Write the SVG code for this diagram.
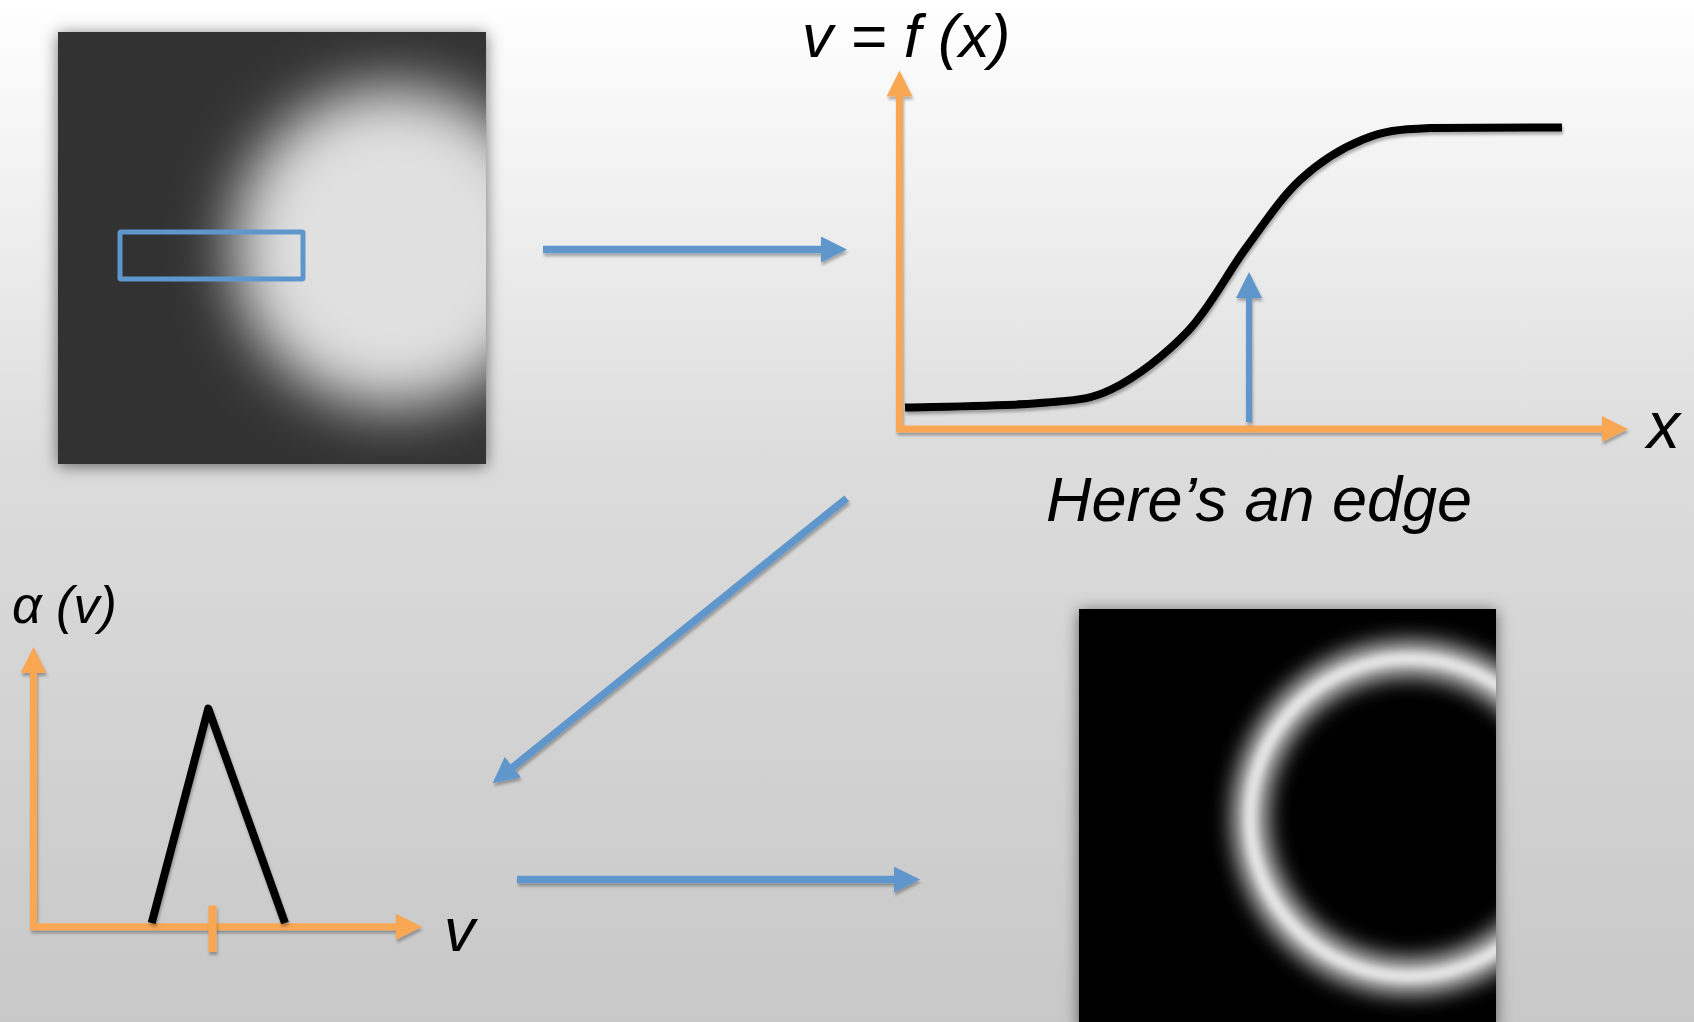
<svg xmlns="http://www.w3.org/2000/svg" width="1694" height="1022" viewBox="0 0 1694 1022">
<style>
.txt{font-family:"Liberation Sans",Arial,sans-serif;font-style:italic;fill:#000}
.blue{stroke:#5f96cb;stroke-width:7.5;fill:none}
.orange{stroke:#f9a752;stroke-width:7;fill:none}
.curve{stroke:#000;stroke-width:8;fill:none;stroke-linejoin:round}
</style>
<defs>
<linearGradient id="bg" x1="0" y1="0" x2="0" y2="1">
<stop offset="0" stop-color="#ffffff"/>
<stop offset="0.45" stop-color="#dcdcdc"/>
<stop offset="1" stop-color="#c8c8c8"/>
</linearGradient>
<filter id="imgShadow" x="-10%" y="-10%" width="120%" height="120%">
<feGaussianBlur in="SourceAlpha" stdDeviation="8"/>
<feOffset dy="2" result="b"/>
<feFlood flood-color="#000" flood-opacity="0.55"/>
<feComposite in2="b" operator="in"/>
</filter>
<filter id="lineShadow" filterUnits="userSpaceOnUse" x="0" y="0" width="1694" height="1022">
<feDropShadow dx="1" dy="3" stdDeviation="1.5" flood-color="#000" flood-opacity="0.3"/>
</filter>
<filter id="bigBlur" filterUnits="userSpaceOnUse" x="0" y="0" width="1694" height="1022">
<feGaussianBlur stdDeviation="30"/>
</filter>
<filter id="ringBlur" filterUnits="userSpaceOnUse" x="0" y="0" width="1694" height="1022">
<feGaussianBlur stdDeviation="11"/>
</filter>
<filter id="ringCore" filterUnits="userSpaceOnUse" x="0" y="0" width="1694" height="1022">
<feGaussianBlur stdDeviation="4"/>
</filter>
<clipPath id="clip1"><rect x="58" y="32" width="428" height="432"/></clipPath>
<clipPath id="clip2"><rect x="1079" y="609" width="417" height="420"/></clipPath>
<marker id="hb" markerUnits="userSpaceOnUse" markerWidth="26" markerHeight="26" refX="2" refY="13" orient="auto" viewBox="0 0 26 26">
<path d="M0,0 L26,13 L0,26 Z" fill="#5f96cb"/>
</marker>
<marker id="ho" markerUnits="userSpaceOnUse" markerWidth="26" markerHeight="26" refX="2" refY="13" orient="auto" viewBox="0 0 26 26">
<path d="M0,0 L26,13 L0,26 Z" fill="#f9a752"/>
</marker>
</defs>
<rect x="0" y="0" width="1694" height="1022" fill="url(#bg)"/>

<g id="image-blob">
<rect x="58" y="32" width="428" height="432" fill="#000" filter="url(#imgShadow)"/>
<g clip-path="url(#clip1)">
<rect x="58" y="32" width="428" height="432" fill="#323232"/>
<circle cx="393" cy="247" r="160" fill="#e0e0e0" filter="url(#bigBlur)"/>
</g>
<rect x="120" y="232" width="183" height="47" fill="none" stroke="#5f96cb" stroke-width="5" rx="1"/>
</g>

<g id="plot-f">
<g filter="url(#lineShadow)">
<line class="orange" x1="899.5" y1="432" x2="899.5" y2="94.5" marker-end="url(#ho)"/>
<line class="orange" x1="896" y1="429" x2="1604" y2="429" marker-end="url(#ho)"/>
</g>
<path class="curve" filter="url(#lineShadow)" d="M905,407.5 C927.5,406.75 1005.5,406.1 1040,403 C1074.5,399.9 1087.3,401 1112,389 C1136.7,377 1165.7,354.5 1188,331 C1210.3,307.5 1227.3,273.2 1246,248 C1264.7,222.8 1280.5,198.1 1300,180 C1319.5,161.9 1341.3,148.25 1363,139.5 C1384.7,130.75 1396.8,129.5 1430,128 L1562,127.4"/>
<line class="blue" style="stroke-width:6" filter="url(#lineShadow)" x1="1249" y1="422" x2="1249" y2="296" marker-end="url(#hb)"/>
<text class="txt" x="802" y="57" font-size="62">v = f (x)</text>
<text class="txt" x="1647" y="448" font-size="66">x</text>
<text class="txt" x="1046" y="521" font-size="63">Here’s an edge</text>
</g>

<g id="plot-alpha">
<g filter="url(#lineShadow)">
<line class="orange" x1="33.5" y1="930" x2="33.5" y2="671" marker-end="url(#ho)"/>
<line class="orange" x1="30" y1="926.7" x2="398" y2="926.7" marker-end="url(#ho)"/>
</g>
<polyline class="curve" filter="url(#lineShadow)" points="151.7,923 208.3,708.5 285,923"/>
<line class="orange" filter="url(#lineShadow)" x1="212.5" y1="905.5" x2="212.5" y2="952" style="stroke-width:8"/>
<text class="txt" x="12" y="623" font-size="52">α (v)</text>
<text class="txt" x="444" y="951" font-size="62">v</text>
</g>

<g id="image-ring">
<rect x="1079" y="609" width="417" height="420" fill="#000" filter="url(#imgShadow)"/>
<g clip-path="url(#clip2)">
<rect x="1079" y="609" width="417" height="420" fill="#000"/>
<circle cx="1409" cy="817.5" r="159" fill="none" stroke="#d0d0d0" stroke-width="34" filter="url(#ringBlur)"/>
<circle cx="1409" cy="817.5" r="159" fill="none" stroke="#f2f2f2" stroke-width="9" filter="url(#ringCore)"/>
</g>
</g>

<g id="connectors" filter="url(#lineShadow)">
<line class="blue" x1="543" y1="249.5" x2="823" y2="249.5" marker-end="url(#hb)"/>
<line class="blue" x1="846.7" y1="498.3" x2="511.3" y2="768.3" marker-end="url(#hb)"/>
<line class="blue" x1="517" y1="879.5" x2="896" y2="879.5" marker-end="url(#hb)"/>
</g>
</svg>
